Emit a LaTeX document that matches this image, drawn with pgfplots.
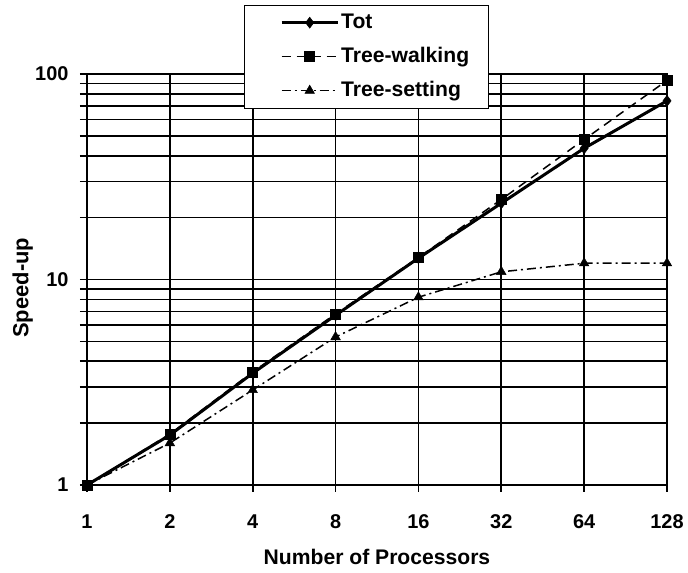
\documentclass[border=0pt]{standalone}
\usepackage{pgfplots}
\pgfplotsset{compat=1.18}
\usepackage{fontspec}
\setmainfont{Liberation Sans}
\begin{document}
\begin{tikzpicture}
\useasboundingbox (-87bp,-88bp) rectangle (601bp,485bp);
\begin{axis}[
  scale only axis, width=580bp, height=411bp,
  at={(0,0)}, anchor=south west,
  ymode=log, ymin=1, ymax=100,
  xmin=0, xmax=7,
  xtick={0,...,7}, xticklabels={1,2,4,8,16,32,64,128},
  ytick={1,10,100}, yticklabels={1,10,100},
  minor ytick={2,3,4,5,6,7,8,9,20,30,40,50,60,70,80,90},
  xmajorgrids, ymajorgrids, yminorgrids,
  grid style={black, line width=1.6bp},
  major grid style={black, line width=1.6bp},
  minor grid style={black, line width=1.6bp},
  axis line style={black, line width=1.6bp},
  major tick style={black, line width=1.6bp},
  minor tick style={black, line width=1.6bp},
  tick align=outside,
  major tick length=7bp, minor tick length=7bp,
  tick pos=left,
  /pgf/number format/assume math mode=true,
  ticklabel style={font=\bfseries\fontsize{20}{24}\selectfont},
  xticklabel style={anchor=center, text height=14bp, text depth=0bp, yshift=-30bp},
  yticklabel style={anchor=east, xshift=-8bp},
  xlabel={Number of Processors},
  ylabel={Speed-up},
  every axis x label/.style={at={(axis description cs:0.5,-0.175)}, anchor=center, font=\bfseries\fontsize{21.2}{24}\selectfont},
  every axis y label/.style={at={(axis description cs:-0.111,0.48)}, rotate=90, anchor=center, font=\bfseries\fontsize{22}{24}\selectfont},
  legend style={at={(axis description cs:0.2707,1.168)}, anchor=north west,
    draw=black, fill=white,
    inner xsep=17bp, inner ysep=7bp,
    font=\bfseries\fontsize{21.2}{24}\selectfont,
    row sep=13bp,
    nodes={inner sep=2bp, text height=14bp, text depth=3bp}},
  every legend/.append style={line width=1.6bp},
  legend cell align=left,
  legend image code/.code={\path (0bp,0bp); \draw[mark repeat=2,mark phase=2,#1] plot coordinates {(19bp,0bp) (47bp,0bp) (75bp,0bp)};},
]
\addplot[black, line width=3bp, mark=diamond*, mark size=5.5bp, mark options={solid, line width=0.5bp}]
  coordinates {(0,1) (1,1.75) (2,3.5) (3,6.7) (4,12.7) (5,23.5) (6,43.5) (7,74)};
\addlegendentry{Tot}
\addplot[black, line width=1.5bp, dash pattern=on 9bp off 6bp, mark=square*, mark size=5bp, mark options={solid, line width=0.5bp}]
  coordinates {(0,1) (1,1.77) (2,3.55) (3,6.8) (4,12.8) (5,24.5) (6,48) (7,93)};
\addlegendentry{Tree-walking}
\addplot[black, line width=1.5bp, dash pattern=on 9bp off 4bp on 2bp off 4bp, mark=triangle*, mark size=5.5bp, mark options={solid, line width=0.5bp}]
  coordinates {(0,1) (1,1.6) (2,2.9) (3,5.25) (4,8.2) (5,10.9) (6,12) (7,12)};
\addlegendentry{Tree-setting}
\end{axis}
\end{tikzpicture}
\end{document}
